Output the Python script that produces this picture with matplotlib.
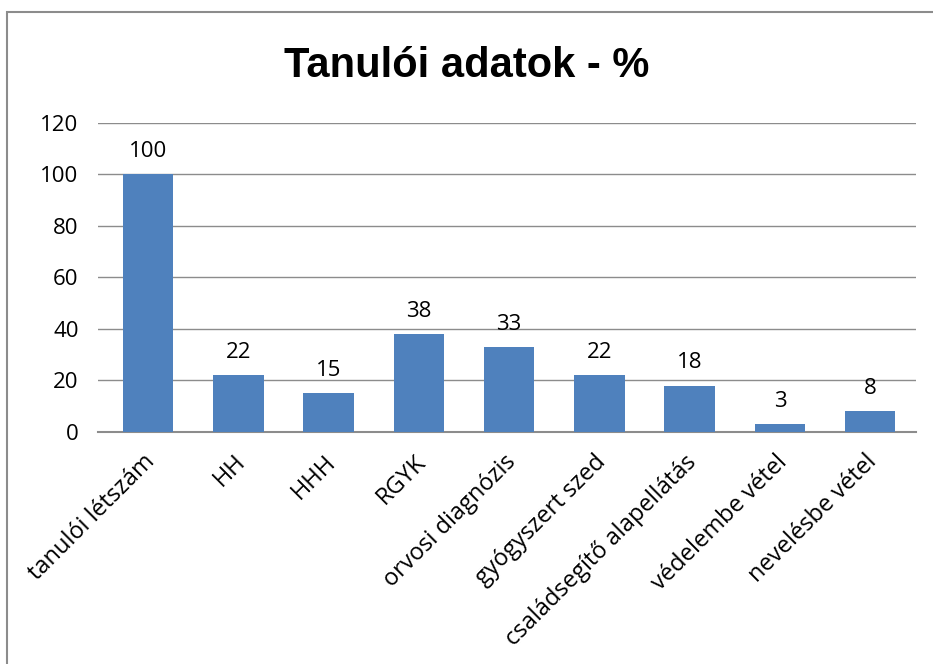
import matplotlib
matplotlib.use('Agg')
import matplotlib.pyplot as plt
from matplotlib.patches import Rectangle
from matplotlib.transforms import ScaledTranslation

plt.rcParams['font.family'] = ['Open Sans', 'DejaVu Sans']

categories = ['tanulói létszám', 'HH', 'HHH', 'RGYK', 'orvosi diagnózis',
              'gyógyszert szed', 'családsegítő alapellátás', 'védelembe vétel',
              'nevelésbe vétel']
values = [100, 22, 15, 38, 33, 22, 18, 3, 8]
y_ticks = [0, 20, 40, 60, 80, 100, 120]

fig = plt.figure(figsize=(9.33, 6.64), dpi=100)
ax = fig.add_axes([0.105, 0.3494, 0.877, 0.4654])

# keret a diagram körül
fig.patches.append(Rectangle((7 / 933, -0.05), 1.0, 1 - 12 / 664 + 0.05,
                             transform=fig.transFigure, fill=False,
                             edgecolor='#8c8c8c', linewidth=1.5))

x = range(len(categories))
ax.bar(x, values, width=0.56, color='#4F81BD', zorder=3)
for i, v in zip(x, values):
    ax.annotate(str(v), (i, v), xytext=(0, 9), textcoords='offset points',
                ha='center', va='bottom', fontsize=16)

ax.set_xlim(-0.554, len(categories) - 0.49)
ax.set_ylim(0, 120)
ax.set_yticks(y_ticks)
ax.tick_params(axis='y', length=0, labelsize=16, pad=14)
ax.tick_params(axis='x', length=0, pad=13)
ax.set_xticks(list(x))
ax.set_xticklabels(categories, rotation=45, ha='right', rotation_mode='anchor',
                   fontsize=17)
shift = ScaledTranslation(-5 / 100, 0, fig.dpi_scale_trans)
for lbl in ax.get_xticklabels():
    lbl.set_transform(lbl.get_transform() + shift)
ax.grid(axis='y', color='#8c8c8c', linewidth=1, zorder=0)
for s in ['left', 'right', 'top']:
    ax.spines[s].set_visible(False)
ax.spines['bottom'].set_color('#8c8c8c')
ax.spines['bottom'].set_linewidth(1.5)

fig.text(0.5, 1 - 66 / 664, 'Tanulói adatok - %', ha='center', va='center',
         fontsize=30, fontweight='bold',
         family=['Liberation Sans', 'DejaVu Sans'])

plt.savefig('out.png', dpi=100)
